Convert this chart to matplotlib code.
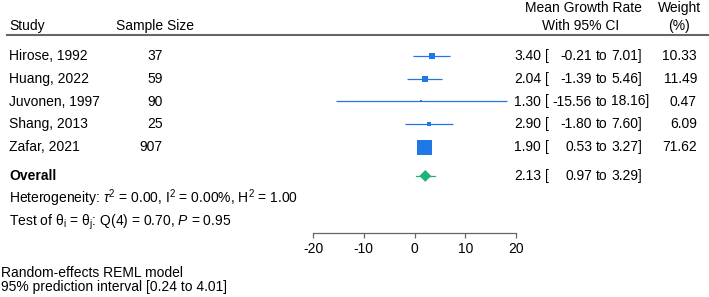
import numpy as np
import matplotlib
matplotlib.use("Agg")
import matplotlib.pyplot as plt
from matplotlib import transforms
from matplotlib.lines import Line2D
from matplotlib.patches import Polygon

plt.rcParams['font.family'] = ['Liberation Sans', 'DejaVu Sans']
plt.rcParams['mathtext.fontset'] = 'custom'
plt.rcParams['mathtext.rm'] = 'Liberation Sans'
plt.rcParams['mathtext.it'] = 'Liberation Sans:italic'
plt.rcParams['mathtext.bf'] = 'Liberation Sans:bold'
plt.rcParams['axes.unicode_minus'] = False

# data
studies = ["Hirose, 1992", "Huang, 2022", "Juvonen, 1997", "Shang, 2013", "Zafar, 2021"]
sample_size = [37, 59, 90, 25, 907]
est = [3.40, 2.04, 1.30, 2.90, 1.90]
lo = [-0.21, -1.39, -15.56, -1.80, 0.53]
hi = [7.01, 5.46, 18.16, 7.60, 3.27]
weight = [10.33, 11.49, 0.47, 6.09, 71.62]

overall_est, overall_lo, overall_hi = 2.13, 0.97, 3.29
pred_lo, pred_hi = 0.24, 4.01
het_text = r"Heterogeneity: $\tau^2$ = 0.00, $\mathregular{I^2}$ = 0.00%, $\mathregular{H^2}$ = 1.00"
test_text = r"Test of $\mathregular{\theta_i}$ = $\mathregular{\theta_j}$: Q(4) = 0.70, $P$ = 0.95"
foot_text = "Random-effects REML model\n95% prediction interval [0.24 to 4.01]"

BLUE = "#1f78e6"
GREEN = "#1db47a"
W, H = 709, 297
FS = 10

fig = plt.figure(figsize=(W / 100, H / 100), dpi=100)

# forest axis: pixel 313..516 horizontally, top 0 .. axis line at 233
row0, step = 55.7, 22.9
ax = fig.add_axes([313 / W, 1 - 233 / H, (516 - 313) / W, 233 / H])
ax.set_xlim(-20, 20)
ax.set_ylim((233 - row0) / step, -row0 / step)
for s in ["top", "left", "right"]:
    ax.spines[s].set_visible(False)
ax.spines["bottom"].set_color("#666666")
ax.spines["bottom"].set_linewidth(0.9)
ax.set_yticks([])
ax.set_xticks([-20, -10, 0, 10, 20])
ax.tick_params(axis="x", direction="out", length=3.5, width=0.9, color="#666666",
               labelsize=FS, pad=3)
ax.patch.set_visible(False)

rows = np.arange(len(studies))
r_overall = len(studies) + 0.25
r_het = len(studies) + 1.23
r_test = len(studies) + 2.27

# study CIs and squares (area proportional to weight)
wmax = max(weight)
for r, e, l, h, w in zip(rows, est, lo, hi, weight):
    ax.plot([l, h], [r, r], color=BLUE, lw=0.9, solid_capstyle="butt")
    side = 15 * np.sqrt(w / wmax) * 0.72
    ax.plot(e, r, marker="s", ms=max(side, 1.6), color=BLUE, mec=BLUE, mew=0)

# overall diamond with prediction interval
ax.plot([pred_lo, pred_hi], [r_overall, r_overall], color=GREEN, lw=0.9)
dh = 0.26
ax.add_patch(Polygon([[overall_lo, r_overall], [overall_est, r_overall - dh],
                      [overall_hi, r_overall], [overall_est, r_overall + dh]],
                     closed=True, color=GREEN, lw=0))

# text columns: x in figure pixels, y in row units
tr = transforms.blended_transform_factory(
    transforms.Affine2D().scale(1 / W, 1) + fig.transFigure, ax.transData)

def col(x, y, s, ha="left", **kw):
    fig.text(x, y, s, ha=ha, va="center", fontsize=FS, transform=tr, **kw)

def ci_cols(r, e, l, h):
    col(541, r, f"{e:.2f}", ha="right")
    col(545, r, "[")
    col(592, r, f"{l:.2f}", ha="right")
    col(596, r, "to")
    col(611, r, f"{h:.2f}]")

for r, name, n, e, l, h, w in zip(rows, studies, sample_size, est, lo, hi, weight):
    col(9, r, name)
    col(163, r, str(n), ha="right")
    ci_cols(r, e, l, h)
    col(697, r, f"{w:.2f}", ha="right")

col(9, r_overall, "Overall", fontweight="bold")
ci_cols(r_overall, overall_est, overall_lo, overall_hi)
col(9, r_het, het_text)
col(9, r_test, test_text)

# header
def ftext(x, y, s, ha="left"):
    fig.text(x / W, 1 - y / H, s, ha=ha, va="center", fontsize=FS)

ftext(9, 26, "Study")
ftext(116, 26, "Sample Size")
ftext(583, 8, "Mean Growth Rate", ha="center")
ftext(581, 26, "With 95% CI", ha="center")
ftext(680, 8, "Weight", ha="center")
ftext(679, 26, "(%)", ha="center")
fig.add_artist(Line2D([7 / W, 1], [1 - 35 / H, 1 - 35 / H], color="#666666", lw=1.5,
                      transform=fig.transFigure))

# footnote
fig.text(1 / W, 1 - 280 / H, foot_text, ha="left", va="center", fontsize=FS,
         linespacing=1.0)

fig.savefig("out.png", dpi=100)
